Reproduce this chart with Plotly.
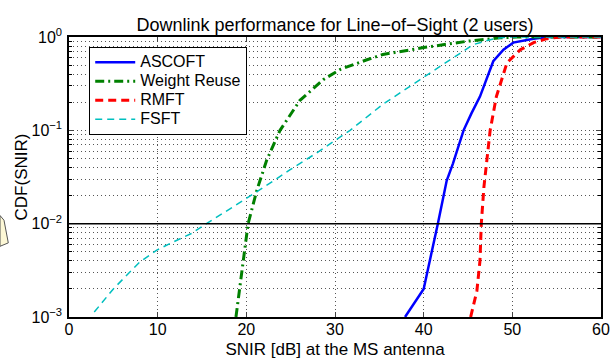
import plotly.graph_objects as go

# ---- data ----
asc_x = [37.9, 40.0, 41.6, 42.2, 42.6, 43.3, 44.5, 45.4, 46.35, 47.85, 49.0, 50.1, 52.4, 54.0, 60.0]
asc_p = [0.001, 0.002, 0.01, 0.018, 0.029, 0.044, 0.10, 0.153, 0.23, 0.55, 0.73, 0.87, 0.96, 1.0, 1.0]

wr_x = [18.83, 19.5, 20.2, 21.2, 22.3, 23.8, 26.05, 28.7, 30.6, 33.6, 35.4, 40.0, 44.9, 48.6, 50.5, 60.0]
wr_p = [0.001, 0.00316, 0.01, 0.023, 0.048, 0.10, 0.21, 0.35, 0.45, 0.57, 0.65, 0.77, 0.90, 0.98, 1.0, 1.0]

rm_x = [45.3, 46.0, 46.35, 46.5, 46.8, 47.1, 47.5, 48.2, 49.4, 50.9, 52.4, 53.9, 55.5, 60.0]
rm_p = [0.001, 0.0019, 0.004, 0.01, 0.025, 0.044, 0.10, 0.23, 0.53, 0.73, 0.87, 0.96, 1.0, 1.0]

fs_x = [2.85, 5.0, 8.0, 9.9, 11.8, 13.8, 15.5, 21.2, 24.9, 27.9, 31.7, 35.4, 39.6, 43.0, 45.6, 47.85, 49.5, 60.0]
fs_p = [0.00113, 0.002, 0.0039, 0.0052, 0.0064, 0.00785, 0.01, 0.022, 0.0376, 0.057, 0.10, 0.19, 0.35, 0.57, 0.83, 0.955, 1.0, 1.0]

series_names = ["ASCOFT", "Weight Reuse", "RMFT", "FSFT"]

x_ticks = [0, 10, 20, 30, 40, 50, 60]
y_ticks = [1e-3, 1e-2, 1e-1, 1e0]
y_ticktext = ["10<sup>−3</sup>", "10<sup>−2</sup>", "10<sup>−1</sup>", "10<sup>0</sup>"]
y_minor = [m * 10 ** e for e in (-3, -2, -1) for m in range(2, 10)]
ref_level = 0.01

FONT = "Liberation Sans, Arial, Helvetica, sans-serif"
GRID = dict(showgrid=True, gridcolor="#555555", griddash="1px,3px", gridwidth=1)


def leg(name):
    return '<span style="font-size:16px">' + name + "</span>"


fig = go.Figure()
fig.add_trace(go.Scatter(x=asc_x, y=asc_p, mode="lines", name=leg(series_names[0]),
                         line=dict(color="#0000ff", width=2.5)))
fig.add_trace(go.Scatter(x=wr_x, y=wr_p, mode="lines", name=leg(series_names[1]),
                         line=dict(color="#008000", width=3, dash="9px,4px,2px,4px")))
fig.add_trace(go.Scatter(x=rm_x, y=rm_p, mode="lines", name=leg(series_names[2]),
                         line=dict(color="#ff0000", width=3, dash="8px,5px")))
fig.add_trace(go.Scatter(x=fs_x, y=fs_p, mode="lines", name=leg(series_names[3]),
                         line=dict(color="#00bfbf", width=1.5, dash="7px,5px")))

fig.add_hline(y=ref_level, line=dict(color="black", width=1.5))

# partial yellow note shape at far left (cut off in the reference)
fig.add_shape(type="path", xref="paper", yref="paper",
              path="M -0.1297,0.3625 L -0.1222,0.3457 L -0.1141,0.2647 L -0.1297,0.2525 Z",
              fillcolor="#fdf8d6", line=dict(color="#555555", width=1), layer="above")

fig.update_layout(
    width=616, height=359,
    margin=dict(l=69, r=15, t=37, b=42, autoexpand=False),
    paper_bgcolor="white", plot_bgcolor="white",
    font=dict(family=FONT, size=16, color="black"),
    title=dict(text="Downlink performance for Line−of−Sight (2 users)",
               x=0.5, xref="paper", xanchor="center", y=0.95, yref="container",
               font=dict(size=18)),
    showlegend=True,
    legend=dict(x=0.038, y=0.965, xanchor="left", yanchor="top",
                bgcolor="white", bordercolor="black", borderwidth=1,
                font=dict(size=12), tracegroupgap=0, itemwidth=40),
)

fig.update_xaxes(range=[0, 60], tickvals=x_ticks, ticks="inside", ticklen=5,
                 showline=True, linecolor="black", linewidth=1.5, mirror="ticks",
                 zeroline=False, tickfont=dict(size=16), ticklabelstandoff=-3,
                 automargin=False,
                 title=dict(text="SNIR [dB] at the MS antenna", standoff=6, font=dict(size=17)),
                 **GRID)
fig.update_yaxes(type="log", range=[-3, 0], tickvals=y_ticks, ticktext=y_ticktext,
                 ticks="inside", ticklen=5,
                 showline=True, linecolor="black", linewidth=1.5, mirror="ticks",
                 minor=dict(tickvals=y_minor, ticks="inside", ticklen=3, tickcolor="black",
                            **GRID),
                 zeroline=False, tickfont=dict(size=16), ticklabelstandoff=2,
                 automargin=False,
                 title=dict(text="CDF(SNIR)", standoff=0, font=dict(size=17)),
                 **GRID)

fig.write_html("out.html")
